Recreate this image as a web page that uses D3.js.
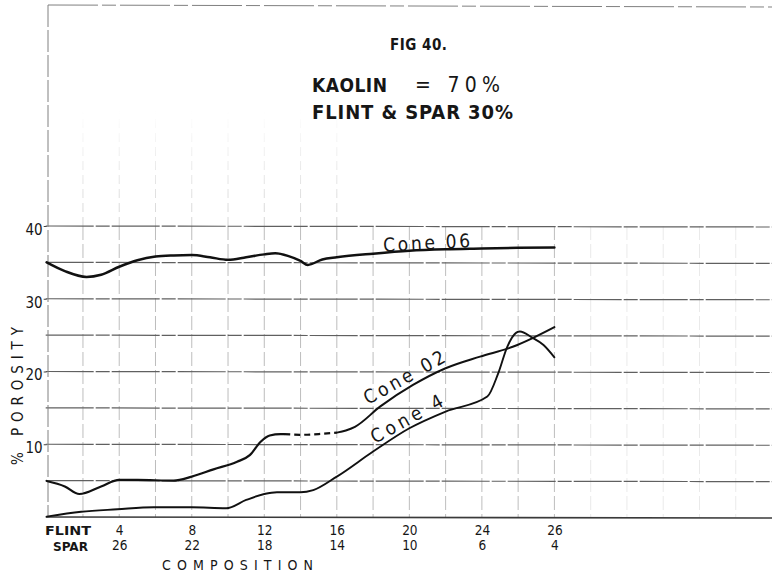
<!DOCTYPE html>
<html>
<head>
<meta charset="utf-8">
<script src="https://cdn.jsdelivr.net/npm/d3@7"></script>
<style>
  html, body { margin: 0; padding: 0; background: #fff; }
  svg { display: block; }
  text { fill: #161616; font-family: "Liberation Sans Narrow", "DejaVu Sans Condensed", "Liberation Sans", sans-serif; }
</style>
</head>
<body>
<svg id="chart" width="772" height="573"></svg>
<script>
// Fig. 40 — porosity of kaolin 70% bodies across the flint / spar series
const flintTicks = [4, 8, 12, 16, 20, 24, 28];
const flintLabels = ["4", "8", "12", "16", "20", "24", "26"];
const sparLabels = ["26", "22", "18", "14", "10", "6", "4"];
const porosityTicks = [10, 20, 30, 40];
const gridLevels = [0, 5, 10, 15, 20, 25, 30, 35, 40];
const gridColumns = [2, 4, 6, 8, 10, 12, 14, 16, 18, 20, 22, 24, 26, 28, 30, 32, 34, 36, 38];

const cone06Flint    = [0, 1, 2.2, 3, 4, 5, 6, 7, 8, 9, 10, 11, 12, 12.6, 13.3, 14, 14.4, 15.2, 16, 18, 20, 22, 24, 26, 28];
const cone06Porosity = [35.0, 33.8, 33.0, 33.3, 34.4, 35.3, 35.8, 35.95, 36.0, 35.7, 35.35, 35.7, 36.1, 36.25, 35.9, 35.2, 34.65, 35.4, 35.7, 36.2, 36.6, 36.8, 36.9, 37.0, 37.05];

const cone02Flint    = [0, 1, 1.8, 3, 4, 5, 7, 8, 9.2, 10.5, 11.2, 11.8, 12.3, 12.9, 13.1, 14, 15, 16, 16.5, 17, 18.4, 20.2, 22, 23.9, 25.7, 26.8, 28];
const cone02Porosity = [4.95, 4.2, 3.16, 4.2, 5.1, 5.1, 5.0, 5.55, 6.55, 7.6, 8.5, 10.35, 11.2, 11.4, 11.4, 11.3, 11.4, 11.6, 11.9, 12.4, 15.2, 18.15, 20.45, 22.05, 23.4, 24.6, 26.1];
const cone02Uncertain = [13.1, 16];   // stretch drawn broken

const cone4Flint    = [0, 1.9, 3.9, 5.9, 8, 9.9, 11, 12, 12.7, 14, 14.7, 16, 18, 20, 22, 24.3, 24.9, 25.4, 25.9, 26.1, 26.75, 27.4, 28];
const cone4Porosity = [0.05, 0.73, 1.06, 1.33, 1.33, 1.2, 2.34, 3.16, 3.4, 3.4, 3.7, 5.55, 9.0, 12.2, 14.5, 16.55, 19.75, 23.4, 25.35, 25.5, 24.7, 23.65, 21.95];

const svg = d3.select("#chart");
const x = d3.scaleLinear().domain([0, 40]).range([46.7, 772]);
const y = d3.scaleLinear().domain([0, 40]).range([517, 226]);

// faint upward continuation of the ruled columns
const defs = svg.append("defs");
const fade = defs.append("linearGradient")
  .attr("id", "colFade").attr("gradientUnits", "userSpaceOnUse")
  .attr("x1", 0).attr("x2", 0).attr("y1", y(40)).attr("y2", 110);
fade.append("stop").attr("offset", 0).attr("stop-color", "#aaa").attr("stop-opacity", 0.5);
fade.append("stop").attr("offset", 1).attr("stop-color", "#aaa").attr("stop-opacity", 0);

const grid = svg.append("g");
grid.selectAll("line.up").data(gridColumns.filter(f => f <= 16)).join("line")
  .attr("class", "up")
  .attr("x1", d => x(d)).attr("x2", d => x(d))
  .attr("y1", y(40)).attr("y2", 110)
  .attr("stroke", "url(#colFade)").attr("stroke-width", 1)
  .attr("stroke-dasharray", "9,5");

grid.selectAll("line.col").data(gridColumns).join("line")
  .attr("class", "col")
  .attr("x1", d => x(d)).attr("x2", d => x(d))
  .attr("y1", y(40)).attr("y2", y(0))
  .attr("stroke", "#9a9a9a").attr("stroke-width", 1)
  .attr("stroke-opacity", d => d <= 28 ? 0.65 : 0.22)
  .attr("stroke-dasharray", "14,4");

grid.selectAll("line.row").data(gridLevels).join("line")
  .attr("class", "row")
  .attr("x1", x(0) - 1).attr("x2", 772)
  .attr("y1", d => y(d)).attr("y2", d => y(d) + 1)
  .attr("stroke", d => d === 0 ? "#3a3a3a" : "#606060")
  .attr("stroke-width", d => d === 0 ? 1.6 : 1.2)
  .attr("stroke-dasharray", d => d === 0 ? null : "48,2,14,2");

// sheet frame: left rule and top rule
grid.append("line")
  .attr("x1", 48).attr("x2", 48).attr("y1", 5).attr("y2", y(0))
  .attr("stroke", "#808080").attr("stroke-width", 1).attr("stroke-dasharray", "22,3");
grid.append("line")
  .attr("x1", 48).attr("x2", 772).attr("y1", 5).attr("y2", 7)
  .attr("stroke", "#808080").attr("stroke-width", 1).attr("stroke-dasharray", "50,4,14,4");

// axes
const yAxis = svg.append("g")
  .attr("transform", `translate(${x(0)},0)`)
  .call(d3.axisLeft(y).tickValues(porosityTicks).tickSize(3).tickPadding(1).tickFormat(d3.format("d")));
yAxis.select(".domain").remove();
yAxis.selectAll(".tick line").attr("stroke", "#444");
yAxis.selectAll("text").attr("font-size", 15).attr("dy", "0.55em").attr("fill", "#161616").attr("font-family", null);

const flintAxis = svg.append("g")
  .attr("transform", `translate(0,${y(0) + 8})`)
  .call(d3.axisBottom(x).tickValues(flintTicks).tickSize(0).tickPadding(0).tickFormat((d, i) => flintLabels[i]));
flintAxis.select(".domain").remove();
flintAxis.selectAll("text").attr("font-size", 13.5).attr("fill", "#161616").attr("font-family", null);

const sparAxis = svg.append("g")
  .attr("transform", `translate(0,${y(0) + 23})`)
  .call(d3.axisBottom(x).tickValues(flintTicks).tickSize(0).tickPadding(0).tickFormat((d, i) => sparLabels[i]));
sparAxis.select(".domain").remove();
sparAxis.selectAll("text").attr("font-size", 13.5).attr("fill", "#161616").attr("font-family", null);

svg.append("text").attr("x", 45).attr("y", 535)
  .attr("font-size", 13).attr("font-weight", 700).attr("textLength", 46).attr("lengthAdjust", "spacingAndGlyphs")
  .text("FLINT");
svg.append("text").attr("x", 53).attr("y", 550.5)
  .attr("font-size", 13).attr("font-weight", 700).attr("textLength", 35).attr("lengthAdjust", "spacingAndGlyphs")
  .text("SPAR");
svg.append("text").attr("x", 162).attr("y", 570)
  .attr("font-size", 14).attr("textLength", 151).attr("lengthAdjust", "spacing")
  .text("COMPOSITION");

svg.append("text")
  .attr("transform", "translate(23,465) rotate(-90)")
  .attr("font-size", 15).attr("textLength", 138).attr("lengthAdjust", "spacing")
  .text("% POROSITY");

// heading
svg.append("text").attr("x", 390).attr("y", 50)
  .attr("font-size", 15).attr("font-weight", 600).attr("textLength", 57).attr("lengthAdjust", "spacing")
  .text("FIG 40.");
svg.append("text").attr("x", 312).attr("y", 91.5)
  .attr("font-size", 19).attr("font-weight", 600).attr("textLength", 75).attr("lengthAdjust", "spacing")
  .text("KAOLIN");
svg.append("text").attr("x", 415).attr("y", 91.5)
  .attr("font-size", 21).attr("textLength", 85).attr("lengthAdjust", "spacing")
  .text("= 70%");
svg.append("text").attr("x", 312).attr("y", 119)
  .attr("font-size", 20).attr("font-weight", 600).attr("textLength", 201).attr("lengthAdjust", "spacing")
  .text("FLINT & SPAR 30%");

// curves
const line = d3.line().x(d => x(d[0])).y(d => y(d[1])).curve(d3.curveMonotoneX);
const pts = (fs, vs) => fs.map((f, i) => [f, vs[i]]);
const curves = svg.append("g").attr("fill", "none").attr("stroke", "#111")
  .attr("stroke-linecap", "round").attr("stroke-linejoin", "round");

curves.append("path").attr("d", line(pts(cone06Flint, cone06Porosity))).attr("stroke-width", 2.5);

const c02 = pts(cone02Flint, cone02Porosity);
curves.append("path").attr("d", line(c02.filter(d => d[0] <= cone02Uncertain[0]))).attr("stroke-width", 2.2);
curves.append("path").attr("d", line(c02.filter(d => d[0] >= cone02Uncertain[0] && d[0] <= cone02Uncertain[1])))
  .attr("stroke-width", 2.2).attr("stroke-linecap", "butt").attr("stroke-dasharray", "6,4");
curves.append("path").attr("d", line(c02.filter(d => d[0] >= cone02Uncertain[1]))).attr("stroke-width", 2.0);

curves.append("path").attr("d", line(pts(cone4Flint, cone4Porosity))).attr("stroke-width", 1.9);

// curve names
const names = svg.append("g").attr("font-size", 19);
names.append("text").attr("transform", `translate(${x(18.57)},${y(36.47)}) rotate(-3)`)
  .attr("textLength", 87).attr("lengthAdjust", "spacing").attr("font-family", "'DejaVu Sans', sans-serif").text("Cone 06");
names.append("text").attr("transform", `translate(${x(17.72)},${y(15.4)}) rotate(-29)`)
  .attr("textLength", 90).attr("lengthAdjust", "spacing").attr("font-family", "'DejaVu Sans', sans-serif").text("Cone 02");
names.append("text").attr("transform", `translate(${x(18.1)},${y(10.03)}) rotate(-29)`)
  .attr("textLength", 80).attr("lengthAdjust", "spacing").attr("font-family", "'DejaVu Sans', sans-serif").text("Cone 4");
</script>
</body>
</html>
